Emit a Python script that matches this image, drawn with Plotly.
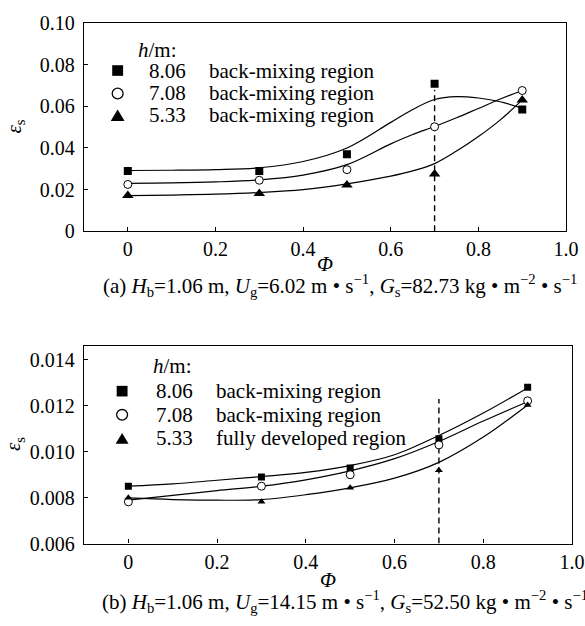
import plotly.graph_objects as go

# ---------------- data ----------------
phi = [0, 0.3, 0.5, 0.7, 0.9]

# (a) measured points
a_806 = [0.0290, 0.0290, 0.0370, 0.0708, 0.0585]
a_708 = [0.0225, 0.0245, 0.0296, 0.0502, 0.0676]
a_533 = [0.0172, 0.0182, 0.0222, 0.0275, 0.0631]

# (a) fitted curves
a_curve_x = [0, 0.1, 0.2, 0.3, 0.4, 0.5, 0.6, 0.65, 0.7, 0.75, 0.8, 0.85, 0.9]
a_curve_806 = [0.0292, 0.0293, 0.0296, 0.0305, 0.0335, 0.0400, 0.0523, 0.0585, 0.0633, 0.0647, 0.0640, 0.0622, 0.0590]
a_curve_708 = [0.0230, 0.0232, 0.0237, 0.0247, 0.0270, 0.0320, 0.0420, 0.0465, 0.0503, 0.0545, 0.0590, 0.0635, 0.0676]
a_curve_533 = [0.0171, 0.0174, 0.0178, 0.0186, 0.0200, 0.0228, 0.0265, 0.0290, 0.0325, 0.0385, 0.0455, 0.0535, 0.0631]

# (b) measured points
b_806 = [0.00850, 0.00890, 0.00929, 0.01057, 0.01281]
b_708 = [0.00782, 0.00850, 0.00900, 0.01030, 0.01222]
b_533 = [0.00800, 0.00782, 0.00843, 0.00920, 0.01204]

# (b) fitted curves
b_curve_x = [0, 0.1, 0.2, 0.3, 0.4, 0.5, 0.6, 0.7, 0.8, 0.9]
b_curve_806 = [0.00850, 0.00860, 0.00876, 0.00892, 0.00910, 0.00940, 0.00987, 0.01071, 0.01169, 0.01278]
b_curve_708 = [0.00789, 0.00810, 0.00831, 0.00850, 0.00878, 0.00917, 0.00970, 0.01045, 0.01134, 0.01218]
b_curve_533 = [0.00799, 0.00792, 0.00789, 0.00792, 0.00813, 0.00843, 0.00885, 0.00954, 0.01064, 0.01204]

# dashed reference line at phi = 0.7
dash_x = [0.7, 0.7]
a_dash_y = [0, 0.068]
b_dash_y = [0.006, 0.0123]

x_ticks = [0, 0.2, 0.4, 0.6, 0.8, 1.0]
x_ticktext = ["0", "0.2", "0.4", "0.6", "0.8", "1.0"]
a_yticks = [0, 0.02, 0.04, 0.06, 0.08, 0.10]
a_yticktext = ["0", "0.02", "0.04", "0.06", "0.08", "0.10"]
b_yticks = [0.006, 0.008, 0.010, 0.012, 0.014]
b_yticktext = ["0.006", "0.008", "0.010", "0.012", "0.014"]

heights = ["8.06", "7.08", "5.33"]
a_regions = ["back-mixing region", "back-mixing region", "back-mixing region"]
b_regions = ["back-mixing region", "back-mixing region", "fully developed region"]

# ---------------- layout helpers ----------------
W, H = 585, 626
L, R = 84, 8
PW = W - L - R
FONT = '"Liberation Serif", "Times New Roman", Times, serif'


def px(x):
    return (x - L) / PW


def py(y):
    return 1 - y / H


fig = go.Figure()

line_style = dict(color="black", width=1.2, shape="spline", smoothing=1.0)
dash_style = dict(color="black", width=1.4, dash="6px,4px")

sq = dict(symbol="square", color="black")
ci = dict(symbol="circle", color="white", line=dict(color="black", width=1))
tr = dict(symbol="triangle-up", color="black")

# (a)
fig.add_trace(go.Scatter(x=dash_x, y=a_dash_y, mode="lines", line=dash_style,
                         xaxis="x", yaxis="y", showlegend=False))
for cy in (a_curve_806, a_curve_708, a_curve_533):
    fig.add_trace(go.Scatter(x=a_curve_x, y=cy, mode="lines", line=line_style,
                             xaxis="x", yaxis="y", showlegend=False))
fig.add_trace(go.Scatter(x=phi, y=a_806, mode="markers", marker=dict(size=8, **sq),
                         xaxis="x", yaxis="y", showlegend=False))
fig.add_trace(go.Scatter(x=phi, y=a_708, mode="markers", marker=dict(size=8, **ci),
                         xaxis="x", yaxis="y", showlegend=False))
fig.add_trace(go.Scatter(x=phi, y=a_533, mode="markers", marker=dict(size=10, **tr),
                         xaxis="x", yaxis="y", showlegend=False))

# (b)
fig.add_trace(go.Scatter(x=dash_x, y=b_dash_y, mode="lines", line=dash_style,
                         xaxis="x2", yaxis="y2", showlegend=False))
for cy in (b_curve_806, b_curve_708, b_curve_533):
    fig.add_trace(go.Scatter(x=b_curve_x, y=cy, mode="lines", line=line_style,
                             xaxis="x2", yaxis="y2", showlegend=False))
fig.add_trace(go.Scatter(x=phi, y=b_806, mode="markers", marker=dict(size=7, **sq),
                         xaxis="x2", yaxis="y2", showlegend=False))
fig.add_trace(go.Scatter(x=phi, y=b_708, mode="markers", marker=dict(size=8, **ci),
                         xaxis="x2", yaxis="y2", showlegend=False))
fig.add_trace(go.Scatter(x=phi, y=b_533, mode="markers", marker=dict(size=7, **tr),
                         xaxis="x2", yaxis="y2", showlegend=False))

tickfont = dict(family=FONT, size=20, color="black")
axis_common = dict(showline=True, mirror=True, linecolor="black", linewidth=1.3,
                   ticks="inside", ticklen=4, tickwidth=1, tickcolor="black",
                   showgrid=False, zeroline=False, tickfont=tickfont)

fig.update_layout(
    width=W, height=H,
    margin=dict(l=L, r=R, t=0, b=0),
    paper_bgcolor="white", plot_bgcolor="white",
    showlegend=False,
    font=dict(family=FONT, color="black"),
    xaxis=dict(domain=[0, px(571)], anchor="y", range=[-0.1, 1.0],
               tickvals=x_ticks, ticktext=x_ticktext, **axis_common),
    yaxis=dict(domain=[py(228.3), py(12.5)], anchor="x", range=[0, 0.10],
               tickvals=a_yticks, ticktext=a_yticktext, ticklabelstandoff=4, **axis_common),
    xaxis2=dict(domain=[0, 1], anchor="y2", range=[-0.1, 1.0],
                tickvals=x_ticks, ticktext=x_ticktext, **axis_common),
    yaxis2=dict(domain=[py(552), py(346.7)], anchor="x2", range=[0.006, 0.01463],
                tickvals=b_yticks, ticktext=b_yticktext, ticklabelstandoff=4, **axis_common),
)

ann = []
txtfont = dict(family=FONT, size=21, color="black")
legfont = dict(family=FONT, size=21, color="black")


def add_text(x, y, text, font, xanchor="left", angle=0):
    ann.append(dict(xref="paper", yref="paper", x=px(x), y=py(y), text=text,
                    showarrow=False, xanchor=xanchor, yanchor="middle",
                    font=font, textangle=angle))


# axis titles
add_text(327.5, 262, "<i>Φ</i>", txtfont, xanchor="center")
add_text(330, 590, "<i>Φ</i>", txtfont, xanchor="center")
add_text(14, 120, "<i>ε</i><sub>s</sub>", txtfont, xanchor="center", angle=-90)
add_text(14, 449, "<i>ε</i><sub>s</sub>", txtfont, xanchor="center", angle=-90)

# captions
add_text(101, 285, "(a) <i>H</i><sub>b</sub>=1.06 m, <i>U</i><sub>g</sub>=6.02 m • s<sup>−1</sup>, "
         "<i>G</i><sub>s</sub>=82.73 kg • m<sup>−2</sup> • s<sup>−1</sup>", txtfont)
add_text(100, 612, "(b) <i>H</i><sub>b</sub>=1.06 m, <i>U</i><sub>g</sub>=14.15 m • s<sup>−1</sup>, "
         "<i>G</i><sub>s</sub>=52.50 kg • m<sup>−2</sup> • s<sup>−1</sup>", txtfont)

# legends (text)
a_rows = [61.7, 85.5, 108]
b_rows = [394, 418.5, 443]
add_text(137, 40, "<i>h</i>/m:", legfont)
add_text(152, 368, "<i>h</i>/m:", legfont)
for i in range(3):
    add_text(148, a_rows[i], heights[i], legfont)
    add_text(208, a_rows[i], a_regions[i], legfont)
    add_text(155, b_rows[i], heights[i], legfont)
    add_text(215, b_rows[i], b_regions[i], legfont)

fig.update_layout(annotations=ann)

# legend symbols as shapes
shapes = []


def leg_square(cx, cy, s):
    shapes.append(dict(type="rect", xref="paper", yref="paper",
                       x0=px(cx - s / 2), x1=px(cx + s / 2), y0=py(cy + s / 2), y1=py(cy - s / 2),
                       fillcolor="black", line=dict(width=0)))


def leg_circle(cx, cy, s):
    shapes.append(dict(type="circle", xref="paper", yref="paper",
                       x0=px(cx - s / 2), x1=px(cx + s / 2), y0=py(cy + s / 2), y1=py(cy - s / 2),
                       fillcolor="white", line=dict(color="black", width=1.3)))


def leg_triangle(cx, cy, w, h):
    path = "M {:.5f},{:.5f} L {:.5f},{:.5f} L {:.5f},{:.5f} Z".format(
        px(cx - w / 2), py(cy + h / 2), px(cx + w / 2), py(cy + h / 2), px(cx), py(cy - h / 2))
    shapes.append(dict(type="path", xref="paper", yref="paper", path=path,
                       fillcolor="black", line=dict(width=0)))


leg_square(118, a_rows[0], 11)
leg_circle(118, a_rows[1], 11)
leg_triangle(118, a_rows[2], 14, 12)
leg_square(122.5, b_rows[0], 11)
leg_circle(122.5, b_rows[1], 11)
leg_triangle(122.5, b_rows[2], 13, 11)

fig.update_layout(shapes=shapes)

fig.write_html("out.html")
